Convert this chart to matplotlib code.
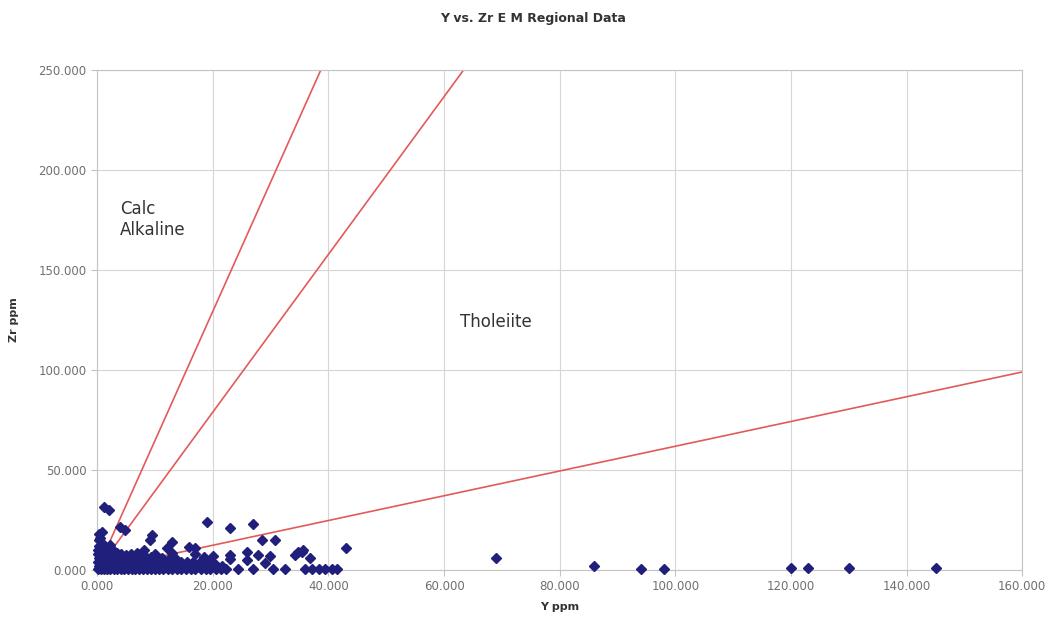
import matplotlib
matplotlib.use("Agg")
import matplotlib.pyplot as plt
from matplotlib.ticker import FuncFormatter

# ---- Sample data: Y (ppm) vs Zr (ppm) ----
y_row0 = [0.2, 0.7, 1.2, 1.7, 2.3, 2.9, 3.5, 4.1, 4.7, 5.3, 6.0, 6.6, 7.2, 7.9, 8.6,
          9.3, 10.0, 10.7, 11.4, 12.2, 13.0, 13.8, 14.6, 15.4, 16.2, 17.0, 17.9, 18.8,
          19.6, 20.5, 21.4, 22.3, 24.4, 27.0, 30.5, 32.5, 36.0, 37.1, 38.3, 39.4, 40.6, 41.5]
zr_row0 = [0.5] * len(y_row0)

y_row1 = [0.4, 0.9, 1.4, 2.0, 2.6, 3.2, 3.8, 4.4, 5.0, 5.7, 6.3, 6.9, 7.6, 8.3, 9.0,
          9.7, 10.4, 11.1, 11.8, 12.6, 13.4, 14.2, 15.1, 16.0, 16.9, 17.8, 18.7, 19.6,
          20.6, 21.6, 29.0]
zr_row1 = [2.2, 2.0, 2.4, 1.9, 2.3, 2.0, 2.5, 2.1, 1.8, 2.4, 2.0, 2.3, 1.9, 2.2, 2.5,
           2.0, 2.3, 1.8, 2.2, 2.4, 2.0, 2.3, 1.9, 2.1, 2.4, 2.0, 2.2, 1.8, 2.3, 2.0, 3.5]

y_row2 = [0.2, 0.7, 1.2, 1.8, 2.4, 3.0, 3.6, 4.3, 5.0, 5.7, 6.4, 7.1, 7.8, 8.6, 9.4,
          10.2, 11.0, 11.9, 12.8, 13.7, 14.6, 15.6, 16.6, 18.0, 19.5, 23.0, 25.9]
zr_row2 = [4.0, 3.6, 4.2, 3.8, 4.4, 3.5, 4.0, 4.3, 3.7, 4.1, 3.8, 4.4, 3.6, 4.0, 4.2,
           3.7, 4.1, 3.9, 4.3, 3.6, 4.0, 3.8, 4.2, 4.5, 5.0, 5.5, 4.8]

y_row3 = [0.3, 0.8, 1.3, 1.9, 2.5, 3.1, 3.8, 4.5, 5.2, 6.0, 6.8, 7.6, 8.5, 9.4,
          10.3, 11.3, 12.4, 13.5, 18.5, 20.0, 27.9, 29.9]
zr_row3 = [5.8, 6.2, 5.6, 6.0, 6.4, 5.8, 6.1, 5.7, 6.3, 5.9, 6.2, 5.6, 6.0, 6.4,
           5.8, 6.1, 5.7, 6.2, 6.5, 7.0, 7.5, 7.2]

y_row4 = [0.2, 0.6, 1.1, 1.6, 2.2, 2.8, 3.5, 4.2, 5.0, 5.9, 6.9, 8.0, 10.0, 13.0,
          17.0, 23.0, 34.3, 36.9]
zr_row4 = [8.0, 8.4, 7.8, 8.2, 8.6, 7.9, 8.3, 8.0, 7.7, 8.1, 8.4, 7.8, 8.2, 8.5,
           8.0, 7.5, 7.5, 6.0]

y_sparse = [0.2, 0.3, 0.3, 0.4, 0.6, 1.0, 1.5, 2.2, 8.1, 9.2, 9.5, 12.1, 13.0,
            15.9, 17.0, 19.0, 23.0, 27.0, 28.5, 30.8, 25.9, 35.4, 34.8, 35.6, 43.0,
            1.2, 2.0, 4.0, 4.9, 0.5, 0.8, 3.0]
zr_sparse = [10.0, 12.0, 15.0, 18.0, 11.0, 13.0, 10.5, 12.5, 10.0, 15.0, 17.5, 11.0,
             14.2, 11.7, 11.0, 24.2, 20.8, 22.8, 15.0, 15.0, 9.2, 9.2, 9.2, 10.0, 11.2,
             31.7, 30.0, 21.7, 20.0, 16.0, 19.0, 9.5]

y_far = [69.0, 86.0, 94.0, 98.0, 120.0, 123.0, 130.0, 145.0]
zr_far = [5.8, 2.0, 0.6, 0.6, 0.8, 0.8, 0.8, 0.8]

y_ppm = y_row0 + y_row1 + y_row2 + y_row3 + y_row4 + y_sparse + y_far
zr_ppm = zr_row0 + zr_row1 + zr_row2 + zr_row3 + zr_row4 + zr_sparse + zr_far

# ---- Discrimination lines, each from the origin ----
line_end_y = [38.7, 63.4, 160.0]
line_end_zr = [250.0, 250.0, 99.0]

x_ticks = [0, 20, 40, 60, 80, 100, 120, 140, 160]
y_ticks = [0, 50, 100, 150, 200, 250]

fig = plt.figure(figsize=(10.55, 6.24), dpi=100)
ax = fig.add_axes([0.092, 0.0865, 0.877, 0.8015])

ax.set_xlim(0, 160)
ax.set_ylim(0, 250)
ax.set_xticks(x_ticks)
ax.set_yticks(y_ticks)
fmt = FuncFormatter(lambda v, p: f"{v:.3f}")
ax.xaxis.set_major_formatter(fmt)
ax.yaxis.set_major_formatter(fmt)
ax.grid(True, color="#d6d6d6", linewidth=0.8)
ax.set_axisbelow(True)
for s in ax.spines.values():
    s.set_color("#c4c4c4")
    s.set_linewidth(0.8)
ax.tick_params(colors="#c4c4c4", labelcolor="#707070", labelsize=8.5, length=4)

for xe, ze in zip(line_end_y, line_end_zr):
    ax.plot([0, xe], [0, ze], color="#e35a5a", linewidth=1.2, zorder=2)

ax.plot(y_ppm, zr_ppm, linestyle="none", marker="D", markersize=4.6,
        color="#211f7c", zorder=3, clip_on=False)

ax.text(4.0, 185, "Calc\nAlkaline", fontsize=12, color="#333333",
        va="top", ha="left", linespacing=1.25)
ax.text(62.7, 124, "Tholeiite", fontsize=12, color="#333333",
        va="center", ha="left")

fig.text(0.505, 0.970, "Y vs. Zr E M Regional Data", ha="center", va="center",
         fontsize=9, fontweight="bold", color="#333333")
ax.set_xlabel("Y ppm", fontsize=8, fontweight="bold", color="#333333", labelpad=6)
ax.set_ylabel("Zr ppm", fontsize=8, fontweight="bold", color="#333333", labelpad=14)

fig.savefig("out.png", dpi=100)
